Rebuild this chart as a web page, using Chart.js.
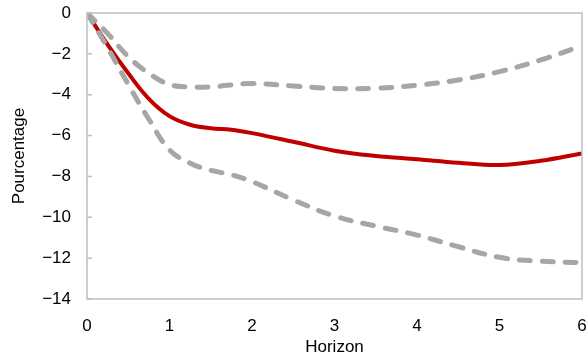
<!DOCTYPE html>
<html lang="fr">
<head>
    <meta charset="UTF-8">
    <title>Pourcentage selon l'horizon</title>
    <style>
        html, body { margin: 0; padding: 0; background: #fff; }
        #wrap { width: 587px; height: 358px; }
    </style>
</head>
<body>

    <div id="wrap">
        <canvas id="myChart"></canvas>
    </div>

    <script src="https://cdn.jsdelivr.net/npm/chart.js"></script>

    <script>
        // Horizon (x) and read-off values
        const horizons = [0, 0.25, 0.5, 0.75, 1, 1.25, 1.5, 1.75, 2, 2.5, 3, 3.5, 4, 4.5, 5, 5.5, 6];
        const central  = [0, -1.55, -2.95, -4.2, -5.05, -5.47, -5.64, -5.71, -5.88, -6.3, -6.74, -7.0, -7.16, -7.33, -7.44, -7.23, -6.87];
        const upper    = [0, -1.0, -2.14, -2.95, -3.5, -3.62, -3.62, -3.52, -3.45, -3.57, -3.7, -3.68, -3.54, -3.28, -2.87, -2.3, -1.6];
        const lower    = [0, -1.7, -3.5, -5.2, -6.7, -7.35, -7.7, -7.92, -8.25, -9.15, -9.94, -10.43, -10.87, -11.44, -11.96, -12.15, -12.22];

        const xTicks = [0, 1, 2, 3, 4, 5, 6];
        const yTicks = [0, -2, -4, -6, -8, -10, -12, -14];

        const font = "'Liberation Sans Narrow', 'Liberation Sans', Arial, sans-serif";

        function toPoints(values) {
            return horizons.map((h, i) => ({ x: h, y: values[i] }));
        }

        // frame round the plot + short inward ticks on the y axis
        const frame = {
            id: 'frame',
            afterDraw(chart) {
                const c = chart.ctx;
                const a = chart.chartArea;
                const y = chart.scales.y;
                c.save();
                c.strokeStyle = '#bfbfbf';
                c.lineWidth = 1.5;
                c.strokeRect(a.left, a.top, a.right - a.left, a.bottom - a.top);
                c.beginPath();
                for (const v of yTicks) {
                    const py = y.getPixelForValue(v);
                    c.moveTo(a.left, py);
                    c.lineTo(a.left + 5, py);
                }
                c.stroke();
                c.restore();
            }
        };

        const dashed = {
            borderColor: '#a6a6a6',
            borderWidth: 5,
            borderDash: [11, 12],
            borderCapStyle: 'round',
            pointRadius: 0,
            tension: 0.4,
            fill: false
        };

        new Chart(document.getElementById('myChart'), {
            type: 'line',
            data: {
                datasets: [
                    {
                        label: 'Central',
                        data: toPoints(central),
                        borderColor: '#c00000',
                        borderWidth: 4,
                        pointRadius: 0,
                        tension: 0.4,
                        fill: false,
                        order: 2
                    },
                    Object.assign({ label: 'Haut', data: toPoints(upper), order: 1 }, dashed),
                    Object.assign({ label: 'Bas', data: toPoints(lower), order: 1 }, dashed)
                ]
            },
            options: {
                responsive: true,
                maintainAspectRatio: false,
                animation: false,
                layout: { padding: { top: 13, right: 5, left: 0, bottom: 0 } },
                plugins: {
                    legend: { display: false },
                    tooltip: { enabled: false }
                },
                scales: {
                    x: {
                        type: 'linear',
                        min: 0,
                        max: 6,
                        afterBuildTicks(scale) { scale.ticks = xTicks.map(v => ({ value: v })); },
                        grid: { display: false },
                        border: { display: false },
                        ticks: {
                            color: '#000',
                            font: { family: font, size: 17 },
                            padding: 9,
                            maxRotation: 0
                        },
                        title: {
                            display: true,
                            text: 'Horizon',
                            color: '#000',
                            font: { family: font, size: 17 },
                            padding: { top: 0, bottom: 0 }
                        },
                        afterFit(scale) {
                            scale.height = 59;
                            scale.paddingLeft = 0;
                            scale.paddingRight = 0;
                        }
                    },
                    y: {
                        min: -14,
                        max: 0,
                        afterBuildTicks(scale) { scale.ticks = yTicks.map(v => ({ value: v })); },
                        grid: { display: false },
                        border: { display: false },
                        ticks: {
                            color: '#000',
                            font: { family: font, size: 17 },
                            padding: 8,
                            callback: v => String(v).replace('-', '\u2212')
                        },
                        title: {
                            display: true,
                            text: 'Pourcentage',
                            color: '#000',
                            font: { family: font, size: 17 },
                            padding: { top: 9, bottom: 0 }
                        },
                        afterFit(scale) {
                            scale.width = 87;
                            scale.paddingTop = 0;
                            scale.paddingBottom = 0;
                        }
                    }
                }
            },
            plugins: [frame]
        });
    </script>

</body>
</html>
